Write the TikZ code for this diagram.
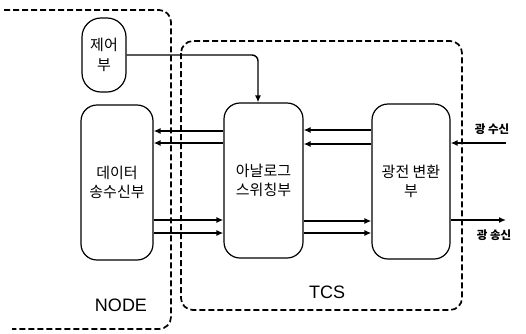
\documentclass[tikz,border=0pt]{standalone}
\usepackage{fontspec}
\setmainfont{Liberation Sans}
\newfontfamily\kr{Noto Sans CJK KR}
\usetikzlibrary{arrows.meta,calc}
\begin{document}
\begin{tikzpicture}[x=1pt,y=-1pt,
  blk/.style={draw,line width=1.2pt,rounded corners=16pt,inner sep=0pt,align=center,font=\kr\fontsize{15}{19.5}\selectfont},
  dashbox/.style={line width=1.7pt,dash pattern=on 6pt off 3pt,rounded corners=12pt},
  arr/.style={line width=1.4pt,-{Latex[length=7pt,width=6pt]}},
  lbl/.style={font=\kr\bfseries\fontsize{11.5}{13}\selectfont,inner sep=0pt},
  big/.style={font=\fontsize{18}{20}\selectfont,inner sep=0pt}]
\useasboundingbox (0,0) rectangle (526,333);
% dashed enclosures
\draw[dashbox] (4,10) -- (171,10) -- (171,329) -- (12,329);
\draw[dashbox] (181,41) rectangle (462,310);
% blocks
\node[blk,minimum width=44pt,minimum height=74pt,rounded corners=19pt] (ctrl) at (104,55) {제어\\부};
\node[blk,minimum width=72pt,minimum height=155pt] (data) at (117,182.5) {데이터\\송수신부};
\node[blk,minimum width=79pt,minimum height=155pt] (ana) at (263.5,180.5) {아날로그\\스위칭부};
\node[blk,minimum width=78pt,minimum height=155pt] (oe) at (411,181.5) {광전 변환\\부};
% labels
\node[big] (nodelbl) at (121,305) {NODE};
\node[big] (tcslbl) at (327,292) {TCS};
% control arrow
\draw[arr,rounded corners=6pt] (ctrl.east) -| ($(ana.north)+(-5.5,0)$);
% data <-> analog
\draw[arr] (ana.west |- 0,131) -- (data.east |- 0,131);
\draw[arr] (ana.west |- 0,143) -- (data.east |- 0,143);
\draw[arr] (data.east |- 0,220) -- (ana.west |- 0,220);
\draw[arr] (data.east |- 0,233) -- (ana.west |- 0,233);
% analog <-> oe
\draw[arr] (oe.west |- 0,130) -- (ana.east |- 0,130);
\draw[arr] (oe.west |- 0,144) -- (ana.east |- 0,144);
\draw[arr] (ana.east |- 0,221) -- (oe.west |- 0,221);
\draw[arr] (ana.east |- 0,233) -- (oe.west |- 0,233);
% optical in/out
\coordinate (rx) at (506,143);
\coordinate (tx) at (506,220);
\draw[arr] (rx) -- (oe.east |- rx);
\draw[arr] (oe.east |- tx) -- (tx);
\node[lbl] (rxl) at (492,129) {광 수신};
\node[lbl] (txl) at (494,235) {광 송신};
\end{tikzpicture}
\end{document}
